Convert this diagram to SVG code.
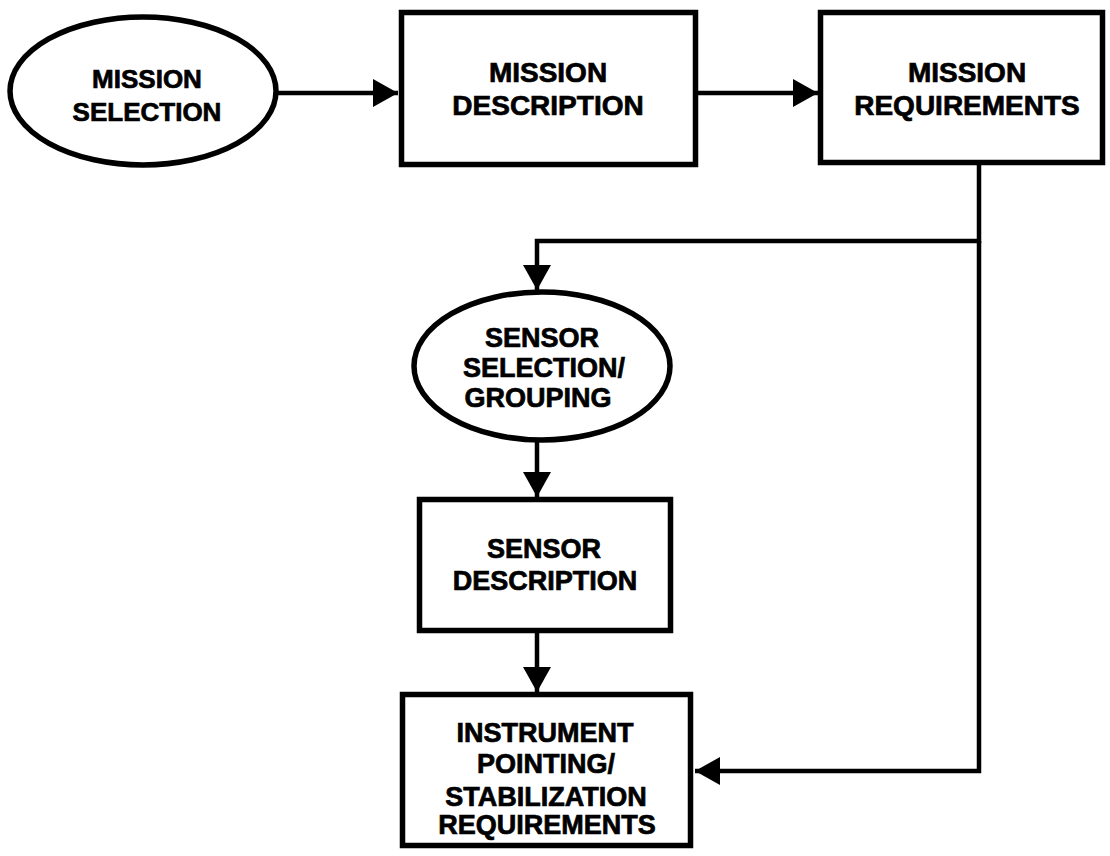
<svg xmlns="http://www.w3.org/2000/svg" width="1110" height="856" viewBox="0 0 1110 856">
  <defs>
    <style>
      .shape { fill: #ffffff; stroke: #000000; stroke-width: 5.5; }
      .conn { fill: none; stroke: #000000; stroke-width: 4.5; stroke-linejoin: miter; }
      .lbl { font-family: "Liberation Sans", Arial, Helvetica, sans-serif; font-weight: bold; font-size: 27px; fill: #000000; stroke: #000000; stroke-width: 0.7; text-anchor: middle; }
      .big { font-size: 28px; }
      .small { font-size: 26px; }
    </style>
    <marker id="arrow" markerUnits="userSpaceOnUse" markerWidth="26" markerHeight="28" refX="25" refY="14" orient="auto">
      <path d="M0,0 L25,14 L0,28 Z" fill="#000000"/>
    </marker>
  </defs>
  <rect x="0" y="0" width="1110" height="856" fill="#ffffff"/>

  <g id="connectors">
    <path class="conn" d="M278,93 H398" marker-end="url(#arrow)"/>
    <path class="conn" d="M698,93 H818" marker-end="url(#arrow)"/>
    <path class="conn" d="M979,165 V241 H537 V290" marker-end="url(#arrow)"/>
    <path class="conn" d="M979,241 V771 H695" marker-end="url(#arrow)"/>
    <path class="conn" d="M537,442 V497" marker-end="url(#arrow)"/>
    <path class="conn" d="M537,633 V692" marker-end="url(#arrow)"/>
  </g>

  <g id="mission-selection">
    <ellipse class="shape" cx="143" cy="91" rx="133" ry="74"/>
    <text class="lbl small" x="147" y="88">MISSION</text>
    <text class="lbl small" x="147" y="121">SELECTION</text>
  </g>

  <g id="mission-description">
    <rect class="shape" x="401.5" y="12.5" width="294" height="152"/>
    <text class="lbl big" x="548" y="82">MISSION</text>
    <text class="lbl big" x="548" y="115">DESCRIPTION</text>
  </g>

  <g id="mission-requirements">
    <rect class="shape" x="820.5" y="12.5" width="282" height="150"/>
    <text class="lbl big" x="967" y="82">MISSION</text>
    <text class="lbl big" x="967" y="115">REQUIREMENTS</text>
  </g>

  <g id="sensor-selection">
    <ellipse class="shape" cx="542" cy="366" rx="128" ry="74"/>
    <text class="lbl" x="542" y="347">SENSOR</text>
    <text class="lbl" x="544" y="377">SELECTION/</text>
    <text class="lbl" x="538" y="407">GROUPING</text>
  </g>

  <g id="sensor-description">
    <rect class="shape" x="419.5" y="499.5" width="251" height="131"/>
    <text class="lbl" x="544" y="558">SENSOR</text>
    <text class="lbl" x="545" y="590">DESCRIPTION</text>
  </g>

  <g id="instrument-pointing">
    <rect class="shape" x="402.5" y="694.5" width="288" height="151"/>
    <text class="lbl" x="545" y="742">INSTRUMENT</text>
    <text class="lbl" x="546" y="773">POINTING/</text>
    <text class="lbl" x="546" y="806">STABILIZATION</text>
    <text class="lbl" x="547" y="834">REQUIREMENTS</text>
  </g>
</svg>
